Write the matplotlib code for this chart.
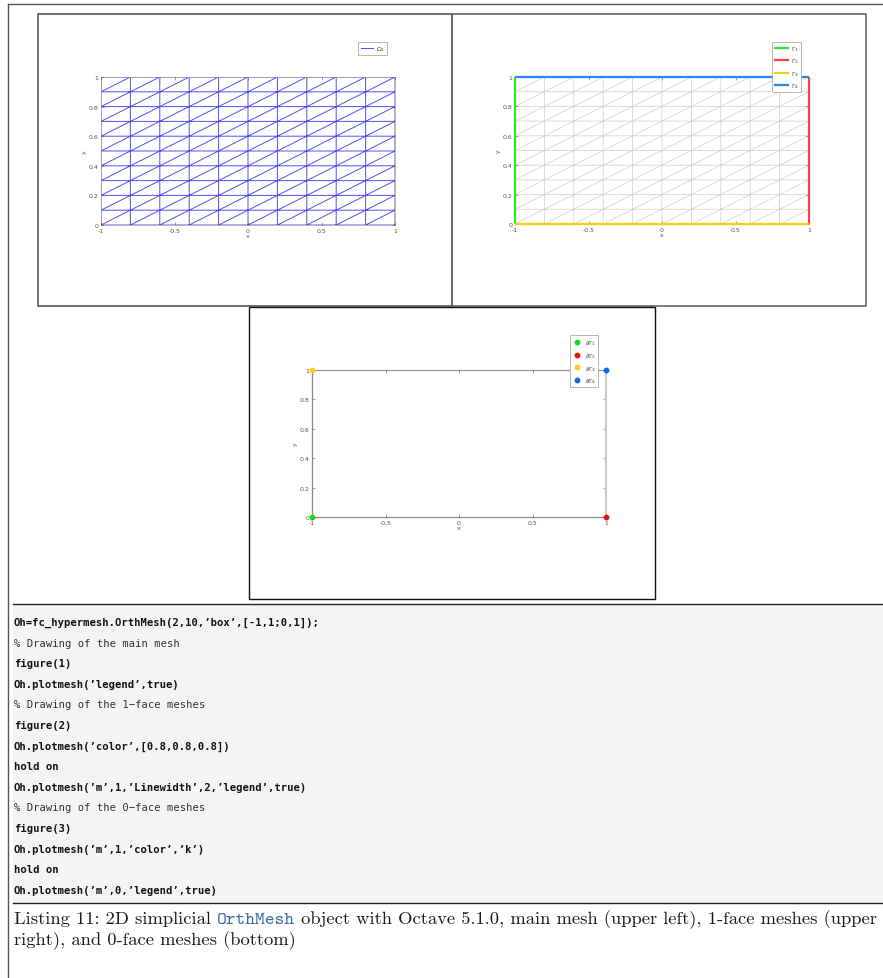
import numpy as np
import matplotlib
matplotlib.use("Agg")
import matplotlib.pyplot as plt
import matplotlib.tri as mtri
from matplotlib.patches import Rectangle
from matplotlib.lines import Line2D

plt.rcParams["axes.unicode_minus"] = False

W, H = 883, 979

# nodes of the box [-1,1]x[0,1] split in 10 x 10 cells
x_nodes = [-1.0, -0.8, -0.6, -0.4, -0.2, 0.0, 0.2, 0.4, 0.6, 0.8, 1.0]
y_nodes = [0.0, 0.1, 0.2, 0.3, 0.4, 0.5, 0.6, 0.7, 0.8, 0.9, 1.0]

# 1-face meshes (left, right, bottom, top)
gamma_labels = [r"$\Gamma_1$", r"$\Gamma_2$", r"$\Gamma_3$", r"$\Gamma_4$"]
gamma_colors = ["#2ee62e", "#f24444", "#ffcc11", "#2a85f0"]

# 0-face meshes (corners)
corner_x = [-1.0, 1.0, -1.0, 1.0]
corner_y = [0.0, 0.0, 1.0, 1.0]
corner_labels = [r"$\partial\Gamma_1$", r"$\partial\Gamma_2$",
                 r"$\partial\Gamma_3$", r"$\partial\Gamma_4$"]
corner_colors = ["#14dc14", "#e81414", "#ffcc14", "#1268ea"]

xtick_vals = [-1, -0.5, 0, 0.5, 1]
xtick_labels = ["-1", "-0.5", "0", "0.5", "1"]
ytick_vals = [0, 0.2, 0.4, 0.6, 0.8, 1]
ytick_labels = ["0", "0.2", "0.4", "0.6", "0.8", "1"]

code_lines = [
    "Oh=fc_hypermesh.OrthMesh(2,10,\u2019box\u2019,[-1,1;0,1]);",
    "% Drawing of the main mesh",
    "figure(1)",
    "Oh.plotmesh(\u2019legend\u2019,true)",
    "% Drawing of the 1\u2212face meshes",
    "figure(2)",
    "Oh.plotmesh(\u2019color\u2019,[0.8,0.8,0.8])",
    "hold on",
    "Oh.plotmesh(\u2019m\u2019,1,\u2019Linewidth\u2019,2,\u2019legend\u2019,true)",
    "% Drawing of the 0\u2212face meshes",
    "figure(3)",
    "Oh.plotmesh(\u2019m\u2019,1,\u2019color\u2019,\u2019k\u2019)",
    "hold on",
    "Oh.plotmesh(\u2019m\u2019,0,\u2019legend\u2019,true)",
]
caption_parts = [
    ("Listing 11: 2D simplicial ", "serif"),
    ("OrthMesh", "mono"),
    (" object with Octave 5.1.0, main mesh (upper left), 1-face meshes (upper", "serif"),
]
caption_line2 = "right), and 0-face meshes (bottom)"

# triangulation: each cell cut along its rising diagonal
nx, ny = len(x_nodes), len(y_nodes)
X, Y = np.meshgrid(x_nodes, y_nodes)
tris = []
for j in range(ny - 1):
    for i in range(nx - 1):
        a, b = j * nx + i, j * nx + i + 1
        c, d = (j + 1) * nx + i + 1, (j + 1) * nx + i
        tris.append([a, b, c])
        tris.append([a, c, d])
mesh = mtri.Triangulation(X.ravel(), Y.ravel(), tris)

gamma_edges = [
    ([x_nodes[0]] * ny, y_nodes),
    ([x_nodes[-1]] * ny, y_nodes),
    (x_nodes, [y_nodes[0]] * nx),
    (x_nodes, [y_nodes[-1]] * nx),
]

fig = plt.figure(figsize=(W / 100, H / 100), dpi=100)


def fig_box(x0, y0, x1, y1):
    return [x0 / W, 1 - y1 / H, (x1 - x0) / W, (y1 - y0) / H]


def frame(x0, y0, x1, y1, color, lw):
    l, b, w, h = fig_box(x0, y0, x1, y1)
    fig.add_artist(Rectangle((l, b), w, h, transform=fig.transFigure,
                             fill=False, ec=color, lw=lw))


def hline(x0, x1, y, color, lw):
    fig.add_artist(Line2D([x0 / W, x1 / W], [1 - y / H, 1 - y / H],
                          transform=fig.transFigure, color=color, lw=lw))


def mesh_axes(x0, y0, x1, y1):
    ax = fig.add_axes(fig_box(x0, y0, x1, y1))
    ax.set_xlim(-1, 1)
    ax.set_ylim(0, 1)
    ax.set_xticks(xtick_vals, xtick_labels)
    ax.set_yticks(ytick_vals, ytick_labels)
    ax.tick_params(direction="in", length=2, width=0.4, labelsize=4.5,
                   colors="#555555", pad=2, top=True, right=True)
    ax.set_xlabel("x", fontsize=4.5, color="#555555", labelpad=0.5)
    ax.set_ylabel("y", fontsize=4.5, color="#555555", labelpad=1)
    for s in ax.spines.values():
        s.set_color("#999999")
        s.set_linewidth(0.5)
        s.set_zorder(1)
    return ax


def add_legend(ax, handles, labels, right, top, **kw):
    leg = ax.legend(handles, labels, loc="upper right",
                    bbox_to_anchor=(right / W, 1 - top / H),
                    bbox_transform=fig.transFigure, borderaxespad=0,
                    fontsize=4.5, fancybox=False, edgecolor="#aaaaaa",
                    framealpha=1, labelcolor="#444444", **kw)
    leg.get_frame().set_linewidth(0.6)
    return leg


# outer listing border
fig.add_artist(Line2D([8 / W, 8 / W], [0, 1 - 5 / H],
                      transform=fig.transFigure, color="#555555", lw=1))
hline(8, W, 5, "#555555", 1)

# panel frames
frame(38, 15, 452, 307, "#555555", 1.2)
frame(452, 15, 866, 307, "#666666", 1.2)
frame(249, 308, 655, 600, "#111111", 1.0)

# main mesh
ax1 = mesh_axes(101, 78, 395, 226)
ax1.triplot(mesh, color="#5050f8", lw=0.7)
add_legend(ax1, [Line2D([], [], color="#5050f8", lw=0.7)], [r"$\Omega_1$"],
           387, 43, handlelength=2.0, handletextpad=0.4, borderpad=0.35)

# 1-face meshes over a gray main mesh
ax2 = mesh_axes(515, 78, 809, 225)
ax2.triplot(mesh, color="#d6d6d6", lw=0.6)
handles = []
for (ex, ey), c in zip(gamma_edges, gamma_colors):
    ax2.plot(ex, ey, color=c, lw=1.6, clip_on=False, solid_capstyle="butt",
             zorder=3)
    handles.append(Line2D([], [], color=c, lw=1.6))
add_legend(ax2, handles, gamma_labels, 801, 43,
           handlelength=2.2, handletextpad=0.4, labelspacing=0.55,
           borderpad=0.35)

# 0-face meshes over the boundary
ax3 = mesh_axes(312, 371, 606, 518)
edge_grays = ["#8a8a8a", "#cccccc", "#8a8a8a", "#999999"]
for (ex, ey), c in zip(gamma_edges, edge_grays):
    ax3.plot(ex, ey, color=c, lw=0.9 if c != "#cccccc" else 1.6,
             clip_on=False, zorder=3)
handles = []
for px, py, c in zip(corner_x, corner_y, corner_colors):
    ax3.plot([px], [py], "o", color=c, ms=3.2, clip_on=False, zorder=5)
    handles.append(Line2D([], [], ls="", marker="o", color=c, ms=3.2))
add_legend(ax3, handles, corner_labels, 598, 336,
           handlelength=1.6, handletextpad=0.4, labelspacing=0.45,
           borderpad=0.35)

# code listing
l, b, w, h = fig_box(13, 605, W, 904)
fig.add_artist(Rectangle((l, b), w, h, transform=fig.transFigure,
                         fc="#f3f4f5", ec="none"))
hline(13, W, 605, "#222222", 1)
hline(13, W, 904, "#222222", 1)
for k, line in enumerate(code_lines):
    is_comment = line.startswith("%")
    fig.text(14 / W, 1 - (626 + 20.6 * k) / H, line,
             family="DejaVu Sans Mono",
             weight="normal" if is_comment else "bold",
             color="#333333" if is_comment else "#111111",
             fontsize=7.6, va="baseline")

# caption
renderer = fig.canvas.get_renderer()
fonts = {"serif": dict(family=["cmr10", "DejaVu Serif"], color="#1a1a1a"),
         "mono": dict(family=["cmtt10", "DejaVu Sans Mono"], color="#3c6ea8")}
x = 14.0
for txt, kind in caption_parts:
    t = fig.text(x / W, 1 - 924 / H, txt, fontsize=13.35, va="baseline",
                 **fonts[kind])
    x += t.get_window_extent(renderer).width
fig.text(14 / W, 1 - 945 / H, caption_line2, fontsize=13.35, va="baseline",
         **fonts["serif"])

fig.savefig("out.png", dpi=100)
